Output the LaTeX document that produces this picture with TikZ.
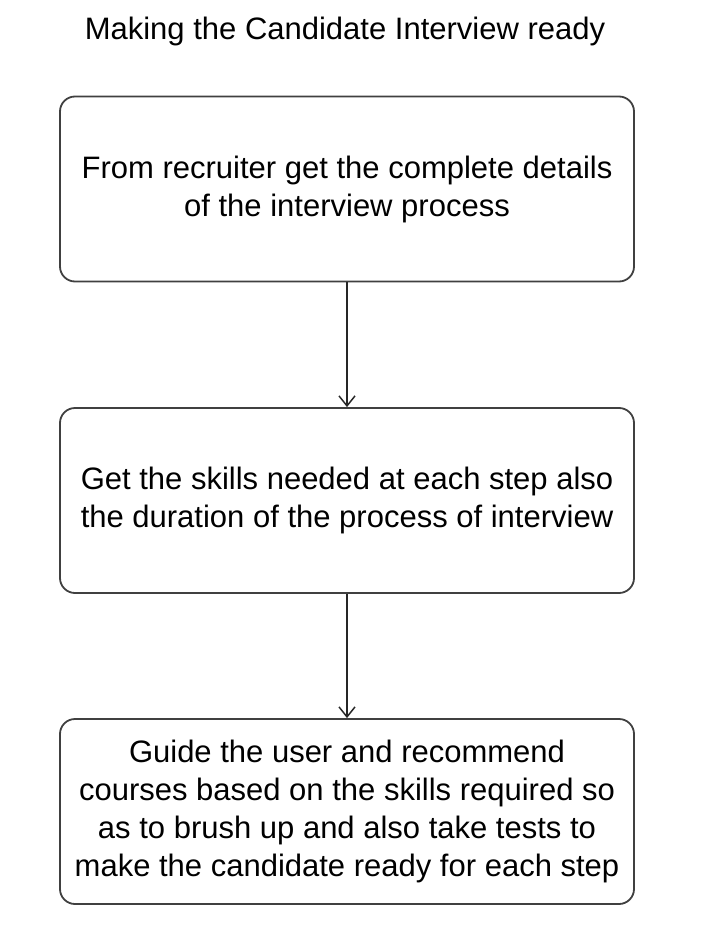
\documentclass[tikz,border=0pt]{standalone}
\usepackage{fontspec}
\setmainfont{Liberation Sans}
\usetikzlibrary{arrows.meta}
\begin{document}
\begin{tikzpicture}[x=1pt,y=-1pt,
  stepbox/.style={draw=black!75,line width=1.8pt,rounded corners=15pt,minimum width=574pt,minimum height=185pt,align=center,font=\fontsize{31}{38}\selectfont,inner sep=0pt},
  conn/.style={draw=black!85,line width=1.5pt,-{Straight Barb[length=10pt,width=16pt,line width=1.5pt]}}]
\useasboundingbox (0,0) rectangle (710,928);
\fill[white] (0,0) rectangle (710,928);
\node[font=\fontsize{31}{36}\selectfont] (title) at (345,31) {Making the Candidate Interview ready};
\node[stepbox] (b1) at (347,189) {From recruiter get the complete details\\of the interview process};
\node[stepbox] (b2) at (347,500.5) {Get the skills needed at each step also\\the duration of the process of interview};
\node[stepbox] (b3) at (347,811.5) {Guide the user and recommend\\courses based on the skills required so\\as to brush up and also take tests to\\make the candidate ready for each step};
\draw[conn] (b1.south) -- (b2.north);
\draw[conn] (b2.south) -- (b3.north);
\end{tikzpicture}
\end{document}
